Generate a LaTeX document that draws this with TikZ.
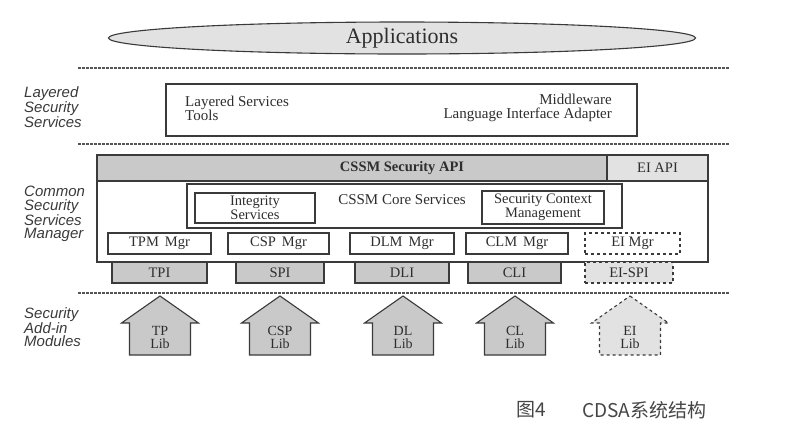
\documentclass[tikz,border=0pt]{standalone}
\usepackage{fontspec}
\setmainfont{Liberation Serif}
\setsansfont{Liberation Sans}
\newfontfamily\cjkfont{Noto Sans CJK SC}
\usetikzlibrary{shapes.geometric}
\definecolor{edge}{HTML}{3A3A3A}
\definecolor{inkgray}{HTML}{2E2E2E}
\definecolor{midgray}{HTML}{C9C9C9}
\definecolor{paleg}{HTML}{E2E2E2}
\definecolor{sepgray}{HTML}{555555}
\definecolor{capgray}{HTML}{454545}
\tikzstyle{apps} = [ellipse, draw=edge, line width=1.1pt, fill=paleg, minimum width=587pt, minimum height=32pt, inner sep=0pt, font=\fontsize{22}{22}\selectfont, text=inkgray]
\tikzstyle{layerlabel} = [font=\sffamily\itshape\fontsize{15}{13.5}\selectfont, align=left, anchor=west, inner sep=0pt, text=edge]
\tikzstyle{box} = [rectangle, draw=edge, line width=1.1pt, fill=white, inner sep=0pt, align=center, font=\fontsize{14.5}{12.5}\selectfont, text=inkgray]
\tikzstyle{graybox} = [box, fill=midgray]
\tikzstyle{eibox} = [box, dashed, fill=paleg]
\tikzstyle{plain} = [inner sep=0pt, font=\fontsize{15}{14}\selectfont, text=inkgray]
\tikzstyle{sepline} = [draw=sepgray, line width=1.2pt, dash pattern=on 3pt off 1pt]
\tikzstyle{house} = [draw=edge, line width=1.1pt, fill=midgray]
\tikzstyle{libtext} = [plain, align=center, font=\fontsize{14}{13}\selectfont]

\begin{document}
\begin{tikzpicture}[x=1pt, y=-1pt]
\useasboundingbox (0,0) rectangle (800,432);

% Applications
\node (apps) [apps] at (402,38) {Applications};
\draw [sepline] (78,68) -- (730,68);

% Layered security services
\node (lsslabel) [layerlabel] at (24,107) {Layered\\Security\\Services};
\node (layered) [box, minimum width=471pt, minimum height=52pt] at (401.5,110) {};
\node (lstools) [plain, anchor=west, align=left] at (185,108) {Layered Services\\Tools};
\node (mware) [plain, anchor=east, align=right] at (612,108) {Middleware\\Language Interface Adapter};
\draw [sepline] (78,144) -- (730,144);

% Common security services manager
\node (csmlabel) [layerlabel] at (24,214) {Common\\Security\\Services\\Manager};
\node (cssm) [box, minimum width=611pt, minimum height=81pt] at (402.5,221.5) {};
\node (api) [graybox, minimum width=510pt, minimum height=26pt] at (352,168) {};
\node (apitext) [plain, font=\bfseries\fontsize{14.5}{14}\selectfont] at (402,168) {CSSM Security API};
\node (eiapi) [box, fill=paleg, minimum width=101pt, minimum height=26pt] at (657.5,168) {EI API};
\node (core) [box, minimum width=435pt, minimum height=44pt] at (404.5,206) {};
\node (coretext) [plain] at (402,200) {CSSM Core Services};
\node (integrity) [box, minimum width=120pt, minimum height=30pt] at (255,208) {Integrity\\Services};
\node (context) [box, minimum width=122pt, minimum height=33pt] at (543,207.5) {Security Context\\Management};

% Managers
\node (tpm) [box, minimum width=103pt, minimum height=21pt] at (159.5,243.5) {TPM\, Mgr};
\node (cspm) [box, minimum width=101pt, minimum height=21pt] at (278.5,243.5) {CSP\, Mgr};
\node (dlm) [box, minimum width=104pt, minimum height=21pt] at (402,243.5) {DLM\, Mgr};
\node (clm) [box, minimum width=102pt, minimum height=21pt] at (517,243.5) {CLM\, Mgr};
\node (eim) [box, dashed, minimum width=95pt, minimum height=21pt] at (632.5,243.5) {EI Mgr};

% Interfaces
\node (tpi) [graybox, minimum width=95pt, minimum height=21pt] at (159.5,272.5) {TPI};
\node (spi) [graybox, minimum width=88pt, minimum height=21pt] at (280,272.5) {SPI};
\node (dli) [graybox, minimum width=94pt, minimum height=21pt] at (402,272.5) {DLI};
\node (cli) [graybox, minimum width=93pt, minimum height=21pt] at (514.5,272.5) {CLI};
\node (eispi) [eibox, minimum width=88pt, minimum height=21pt] at (629,272.5) {EI-SPI};
\draw [sepline] (78,293) -- (730,293);

% Add-in modules
\node (samlabel) [layerlabel] at (24,327) {Security\\Add-in\\Modules};
\foreach \c/\name/\txt in {160/tplib/TP, 280/csplib/CSP, 403/dllib/DL, 515/cllib/CL}{
  \draw [house] (\c,296) -- (\c+38.5,323) -- (\c+30.5,323) -- (\c+30.5,355)
    -- (\c-30.5,355) -- (\c-30.5,323) -- (\c-38.5,323) -- cycle;
  \node (\name) [libtext] at (\c,337) {\txt\\Lib};
}
\draw [house, dashed, fill=paleg] (630,296) -- (668.5,323) -- (660.5,323) -- (660.5,355)
  -- (599.5,355) -- (599.5,323) -- (591.5,323) -- cycle;
\node (eilib) [libtext] at (630,337) {EI\\Lib};

% Caption
\node (fignum) [anchor=west, inner sep=0pt, text=capgray, font=\cjkfont\fontsize{19}{19}\selectfont] at (516,410) {图4};
\node (figtitle) [anchor=west, inner sep=0pt, text=capgray, font=\cjkfont\fontsize{19}{19}\selectfont] at (582,410) {CDSA系统结构};

\end{tikzpicture}
\end{document}
